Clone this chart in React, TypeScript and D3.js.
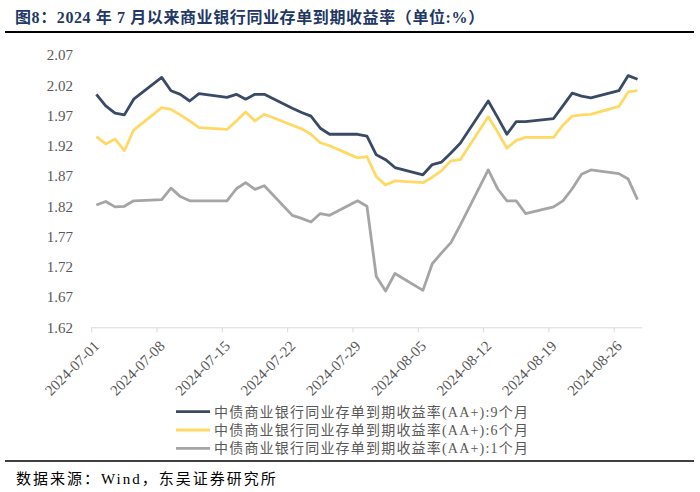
import React from "react";
import * as d3 from "d3";

const dates = [
  "2024-07-01", "2024-07-02", "2024-07-03", "2024-07-04", "2024-07-05",
  "2024-07-08", "2024-07-09", "2024-07-10", "2024-07-11", "2024-07-12",
  "2024-07-15", "2024-07-16", "2024-07-17", "2024-07-18", "2024-07-19",
  "2024-07-22", "2024-07-23", "2024-07-24", "2024-07-25", "2024-07-26",
  "2024-07-29", "2024-07-30", "2024-07-31", "2024-08-01", "2024-08-02",
  "2024-08-05", "2024-08-06", "2024-08-07", "2024-08-08", "2024-08-09",
  "2024-08-12", "2024-08-13", "2024-08-14", "2024-08-15", "2024-08-16",
  "2024-08-19", "2024-08-20", "2024-08-21", "2024-08-22", "2024-08-23",
  "2024-08-26", "2024-08-27", "2024-08-28",
];

const yield9M = [
  2.005, 1.986, 1.974, 1.971, 1.997,
  2.033, 2.011, 2.005, 1.994, 2.006,
  2.000, 2.005, 1.997, 2.005, 2.005,
  1.982, 1.975, 1.969, 1.949, 1.939,
  1.939, 1.936, 1.905, 1.897, 1.884,
  1.872, 1.889, 1.893, 1.908, 1.924,
  1.994, 1.967, 1.939, 1.960, 1.960,
  1.965, 1.986, 2.007, 2.002, 1.999,
  2.011, 2.036, 2.030,
];

const yield6M = [
  1.935, 1.923, 1.931, 1.912, 1.946,
  1.983, 1.980, 1.971, 1.961, 1.950,
  1.947, 1.961, 1.976, 1.961, 1.972,
  1.954, 1.948, 1.939, 1.925, 1.920,
  1.900, 1.902, 1.869, 1.855, 1.862,
  1.859, 1.868, 1.879, 1.895, 1.897,
  1.968, 1.943, 1.916, 1.929, 1.934,
  1.934, 1.954, 1.969, 1.971, 1.972,
  1.985, 2.009, 2.011,
];

const yield1M = [
  1.822, 1.828, 1.819, 1.820, 1.829,
  1.831, 1.850, 1.836, 1.829, 1.829,
  1.829, 1.849, 1.859, 1.848, 1.854,
  1.805, 1.800, 1.794, 1.808, 1.805,
  1.829, 1.820, 1.704, 1.680, 1.709,
  1.681, 1.725, 1.743, 1.760, 1.789,
  1.880, 1.849, 1.829, 1.829, 1.808,
  1.819, 1.829, 1.849, 1.873, 1.880,
  1.874, 1.865, 1.831,
];

const yTicks = [1.62, 1.67, 1.72, 1.77, 1.82, 1.87, 1.92, 1.97, 2.02, 2.07];
const xTickLabels = [
  "2024-07-01", "2024-07-08", "2024-07-15", "2024-07-22", "2024-07-29",
  "2024-08-05", "2024-08-12", "2024-08-19", "2024-08-26",
];
const axisStart = "2024-07-01";
const axisEnd = "2024-08-29";

const seriesNames = [
  "中债商业银行同业存单到期收益率(AA+):9个月",
  "中债商业银行同业存单到期收益率(AA+):6个月",
  "中债商业银行同业存单到期收益率(AA+):1个月",
];
const seriesColors = ["#3A4A64", "#FFD966", "#A5A5A5"];

const titleText = "图8：2024 年 7 月以来商业银行同业存单到期收益率（单位:%）";
const sourceText = "数据来源：Wind，东吴证券研究所";

const parse = d3.utcParse("%Y-%m-%d");

export default function App() {
  const W = 700;
  const H = 492;
  const left = 91.7;
  const right = 642.2;
  const top = 55;
  const bottom = 327.3;

  const x = d3
    .scaleUtc()
    .domain([parse(axisStart)!, parse(axisEnd)!])
    .range([left, right]);
  const y = d3.scaleLinear().domain([1.62, 2.07]).range([bottom, top]);

  const halfDay = 12 * 3600 * 1000;
  const seriesData = [yield9M, yield6M, yield1M];
  const line = d3
    .line<[Date, number]>()
    .x((d) => x(new Date(d[0].getTime() + halfDay)))
    .y((d) => y(d[1]));

  const serif = "'Liberation Serif', 'Times New Roman', 'Noto Sans CJK SC', serif";

  return (
    <svg
      width={W}
      height={H}
      viewBox={`0 0 ${W} ${H}`}
      style={{ position: "absolute", left: 0, top: 0, background: "#fff" }}
    >
      <rect x={0} y={0} width={W} height={H} fill="#fff" />
      {/* Title */}
      <text
        x={15}
        y={23}
        fontFamily={serif}
        fontSize={16}
        fontWeight="bold"
        fill="#1F3864"
        letterSpacing={0.6}
      >
        {titleText}
      </text>
      <line x1={5} x2={694} y1={32} y2={32} stroke="#000" strokeWidth={2} />

      {/* Y axis labels */}
      {yTicks.map((t) => (
        <text
          key={t}
          x={73}
          y={y(t)}
          dy="0.35em"
          textAnchor="end"
          fontFamily={serif}
          fontSize={15}
          fill="#595959"
        >
          {t.toFixed(2)}
        </text>
      ))}

      {/* X axis */}
      <line x1={left} x2={right} y1={bottom + 0.5} y2={bottom + 0.5} stroke="#D9D9D9" strokeWidth={1} />
      {xTickLabels.map((lab) => {
        const tx = x(parse(lab)!);
        return (
          <g key={lab}>
            <line x1={tx} x2={tx} y1={bottom} y2={bottom + 5} stroke="#D9D9D9" strokeWidth={1} />
            <text
              transform={`translate(${tx + 5},${bottom + 16}) rotate(-45)`}
              textAnchor="end"
              dy="0.35em"
              fontFamily={serif}
              fontSize={15}
              fill="#595959"
            >
              {lab}
            </text>
          </g>
        );
      })}

      {/* Lines (draw 1M first, then 6M, then 9M on top) */}
      {[2, 1, 0].map((i) => {
        const pts: [Date, number][] = dates.map((d, j) => [parse(d)!, seriesData[i][j]]);
        return (
          <path
            key={i}
            d={line(pts) || ""}
            fill="none"
            stroke={seriesColors[i]}
            strokeWidth={2.8}
            strokeLinejoin="round"
          />
        );
      })}

      {/* Legend */}
      {seriesNames.map((name, i) => {
        const ly = 411.7 + i * 18.3;
        return (
          <g key={name}>
            <line x1={176} x2={210} y1={ly} y2={ly} stroke={seriesColors[i]} strokeWidth={2.8} />
            <text
              x={214}
              y={ly}
              dy="0.36em"
              fontFamily={serif}
              fontSize={14}
              fill="#595959"
              letterSpacing={1.2}
            >
              {name}
            </text>
          </g>
        );
      })}

      {/* Footer */}
      <line x1={5} x2={694} y1={461} y2={461} stroke="#000" strokeWidth={1.5} />
      <text x={16} y={483.5} fontFamily={serif} fontSize={15} fill="#000" letterSpacing={2}>
        {sourceText}
      </text>
    </svg>
  );
}
